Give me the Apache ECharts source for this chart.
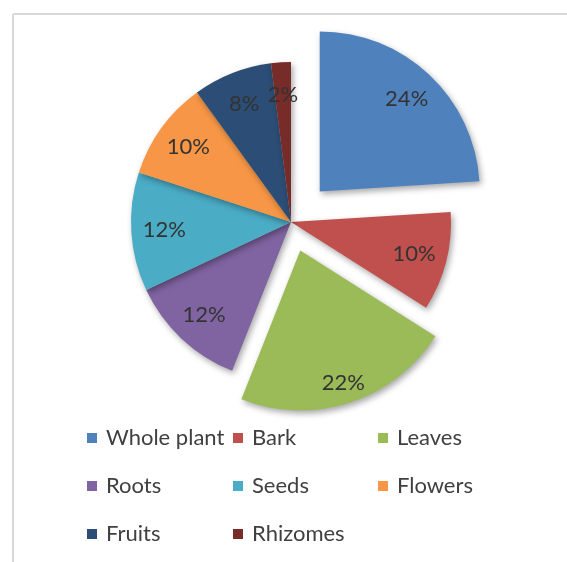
<!DOCTYPE html>
<html>
<head>
<meta charset="utf-8">
<script src="https://cdn.jsdelivr.net/npm/echarts@6/dist/echarts.min.js"></script>
<style>
html, body { margin: 0; padding: 0; background: #fff; }
#pieChart { width: 567px; height: 562px; }
</style>
</head>
<body>
<div id="pieChart"></div>
<script>
// plant parts used, share in %
var categories = ['Whole plant', 'Bark', 'Leaves', 'Roots', 'Seeds', 'Flowers', 'Fruits', 'Rhizomes'];
var shares = [24, 10, 22, 12, 12, 10, 8, 2];
var colors = ['#4f81bd', '#c0504d', '#9bbb59', '#8064a2', '#4bacc6', '#f79646', '#2c4d75', '#772c2a'];
// pulled-out slices
var farOut = 'Whole plant';   // pulled out further
var nearOut = 'Leaves';       // pulled out a bit less

var pieChart = echarts.init(document.getElementById('pieChart'));

var CENTER = [291, 222];
var R = 160;
var noColor = 'rgba(0,0,0,0)';

// main pie: everything except Leaves, Whole plant pulled out
var mainData = categories.map(function (name, i) {
    return {
        name: name,
        value: shares[i],
        selected: name === farOut,
        itemStyle: { color: name === nearOut ? noColor : colors[i] }
    };
});
// second pie: only Leaves visible, pulled out
var leavesData = categories.map(function (name, i) {
    return {
        name: name,
        value: shares[i],
        selected: name === nearOut,
        itemStyle: { color: name === nearOut ? colors[i] : noColor }
    };
});
// invisible ring that carries the percentage labels
var labelData = categories.map(function (name, i) {
    return {
        name: name,
        value: shares[i],
        selected: name === farOut || name === nearOut
    };
});

var legendFor = function (col, left) {
    return {
        orient: 'vertical',
        left: left,
        top: 427,
        padding: 0,
        icon: 'rect',
        itemWidth: 10,
        itemHeight: 10,
        itemGap: 26,
        selectedMode: false,
        textStyle: { fontFamily: 'Lato', fontSize: 22, color: '#404040', lineHeight: 22, padding: [0, 0, 0, 4] },
        data: categories.map(function (c, i) {
            return { name: c, itemStyle: { color: colors[i] } };
        }).filter(function (c, i) { return i % 3 === col; })
    };
};

var pieBase = {
    type: 'pie',
    center: CENTER,
    startAngle: 90,
    clockwise: true,
    selectedMode: 'multiple',
    emphasis: { disabled: true },
    labelLine: { show: false }
};

var shadow = {
    shadowBlur: 6,
    shadowColor: 'rgba(0,0,0,0.35)',
    shadowOffsetX: 2,
    shadowOffsetY: 3
};

var pieOption = {
    animation: false,
    legend: [legendFor(0, 87), legendFor(1, 233), legendFor(2, 378)],
    graphic: [
        { type: 'line', shape: { x1: 13, y1: 14, x2: 13, y2: 562 }, style: { stroke: '#d9d9d9', lineWidth: 2 } },
        { type: 'line', shape: { x1: 13, y1: 14, x2: 567, y2: 14 }, style: { stroke: '#d9d9d9', lineWidth: 2 } }
    ],
    series: [
        echarts.util.merge({
            name: 'main',
            radius: R,
            selectedOffset: 42,
            label: { show: false },
            itemStyle: shadow,
            data: mainData
        }, pieBase),
        echarts.util.merge({
            name: 'leaves',
            radius: R,
            selectedOffset: 30,
            label: { show: false },
            itemStyle: shadow,
            data: leavesData
        }, pieBase),
        echarts.util.merge({
            name: 'labels',
            radius: [88, R],
            silent: true,
            selectedOffset: 42,
            itemStyle: { color: noColor },
            label: {
                show: true,
                position: 'inside',
                formatter: '{c}%',
                fontFamily: 'Lato',
                fontSize: 22,
                color: '#333'
            },
            data: labelData
        }, pieBase)
    ]
};

pieChart.setOption(pieOption, true);
</script>
</body>
</html>
